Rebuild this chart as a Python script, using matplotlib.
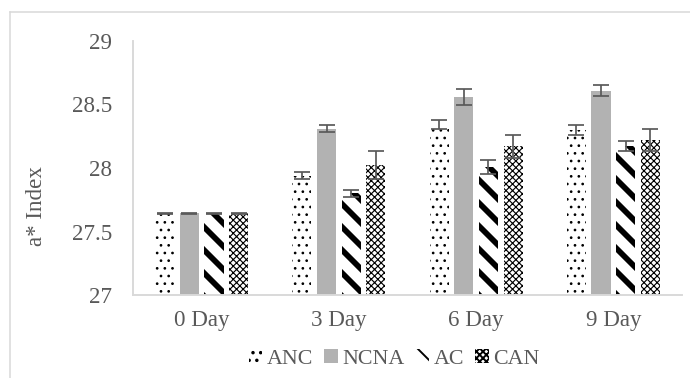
import numpy as np
import matplotlib.pyplot as plt
from matplotlib.lines import Line2D


days = ['0 Day', '3 Day', '6 Day', '9 Day']
series = ['ANC', 'NCNA', 'AC', 'CAN']

anc = [27.645, 27.94, 28.34, 28.30]
anc_err = [0.004, 0.03, 0.035, 0.04]
ncna = [27.645, 28.31, 28.56, 28.61]
ncna_err = [0.004, 0.03, 0.06, 0.04]
ac = [27.645, 27.80, 28.01, 28.17]
ac_err = [0.004, 0.03, 0.055, 0.04]
can = [27.645, 28.02, 28.17, 28.22]
can_err = [0.004, 0.11, 0.09, 0.09]

values = [anc, ncna, ac, can]
errors = [anc_err, ncna_err, ac_err, can_err]

# look of each series: facecolor, hatch, hatch linewidth
styles = [
    ('white', '...', 0.6),
    ('#b2b2b2', '', 1.0),
    ('white', '\\\\', 3.0),
    ('white', 'xxxxxxx', 0.6),
]

DPI = 138
plt.rcParams['font.family'] = ['Liberation Serif', 'DejaVu Serif']
grey_txt = '#595959'
fs = 12

fig = plt.figure(figsize=(690 / DPI, 378 / DPI), dpi=DPI)
ax = fig.add_axes([133 / 690, 1 - 295 / 378, (682 - 133) / 690, (295 - 41) / 378])

x = np.arange(len(days))
width = 0.139
pitch = 0.18

handles = []
for i, (name, vals, errs) in enumerate(zip(series, values, errors)):
    fc, hatch, hlw = styles[i]
    with plt.rc_context({'hatch.linewidth': hlw, 'hatch.color': 'black'}):
        bars = ax.bar(x + (i - 1.5) * pitch, vals, width, bottom=0,
                      color=fc, edgecolor='black', linewidth=0,
                      hatch=hatch if hatch else None, label=name,
                      yerr=errs, capsize=4.2,
                      error_kw=dict(ecolor=grey_txt, elinewidth=0.9, capthick=0.9))
    for b in bars:
        if hasattr(b, 'set_hatch_linewidth'):
            b.set_hatch_linewidth(hlw)
    handles.append(bars)

ax.set_ylim(27, 29)
ax.set_xlim(-0.5, 3.5)
ax.set_yticks([27, 27.5, 28, 28.5, 29])
ax.set_yticklabels(['27', '27.5', '28', '28.5', '29'])
ax.set_xticks(x)
ax.set_xticklabels(days)
ax.tick_params(axis='both', length=0, labelsize=fs, labelcolor=grey_txt)
ax.tick_params(axis='y', pad=11)
ax.tick_params(axis='x', pad=8)

for s in ['top', 'right']:
    ax.spines[s].set_visible(False)
for s in ['left', 'bottom']:
    ax.spines[s].set_color('#d9d9d9')
    ax.spines[s].set_linewidth(1.0)

fig.text(37 / 690, 1 - 206 / 378, 'a* Index', rotation=90, ha='center', va='center',
         fontsize=fs, color=grey_txt)

leg = fig.legend(handles=handles, labels=series, loc='center',
                 bbox_to_anchor=(394 / 690, 1 - 359 / 378), ncol=4, frameon=False,
                 fontsize=11.5, handlelength=0.62, handleheight=0.62,
                 handletextpad=0.2, columnspacing=0.5, borderpad=0)
for t in leg.get_texts():
    t.set_color(grey_txt)

# outer chart border (cut off at right and bottom)
fig.add_artist(Line2D([10 / 690, 10 / 690], [1 - 12 / 378, -0.1],
                      transform=fig.transFigure, color='#d9d9d9', lw=0.8))
fig.add_artist(Line2D([10 / 690, 1.1], [1 - 12 / 378, 1 - 12 / 378],
                      transform=fig.transFigure, color='#d9d9d9', lw=0.8))

fig.savefig('out.png', dpi=DPI)
